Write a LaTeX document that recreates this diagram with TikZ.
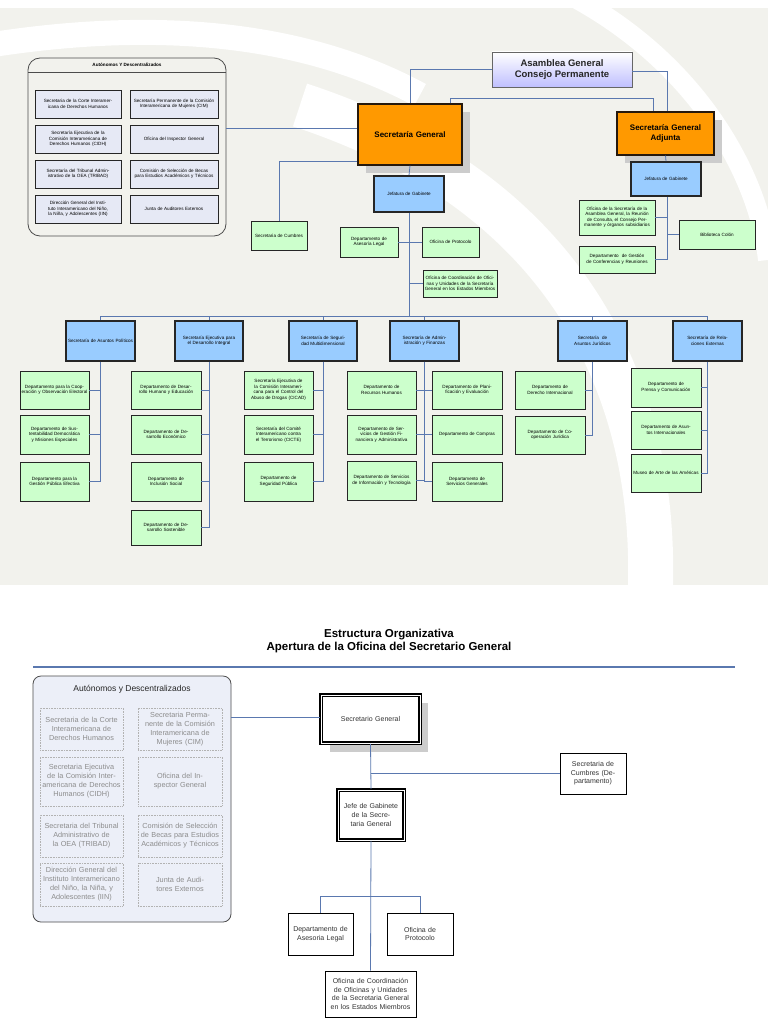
\documentclass[tikz,border=0pt]{standalone}
\usepackage{fontspec}
\setmainfont{Liberation Sans}
\usetikzlibrary{calc}
\definecolor{bgc}{RGB}{242,242,237}
\definecolor{lnc}{RGB}{90,120,175}
\definecolor{gfill}{RGB}{204,255,204}
\definecolor{bfill}{RGB}{153,204,255}
\definecolor{ofill}{RGB}{255,153,0}
\definecolor{lav}{RGB}{230,233,245}
\definecolor{pale}{RGB}{236,239,248}
\newcommand\bx[7]{\node[#6, minimum width={(#4-#2)*1pt}, minimum height={(#5-#3)*1pt}, text width={(#4-#2-3)*1pt}] (#1) at ({(#2+#4)/2},{(#3+#5)/2}) {#7};}
\tikzset{
 base/.style={inner sep=0pt, align=center, font=\fontsize{4.6}{5.5}\selectfont},
 green/.style={base, draw=black!85, line width=0.8pt, fill=gfill},
 blue/.style={base, draw=black!85, line width=1.6pt, fill=bfill},
 orange/.style={base, draw=black!80!brown, line width=1.4pt, fill=ofill, font=\bfseries\fontsize{8}{9.5}\selectfont},
 lav/.style={base, draw=black!85, line width=0.8pt, fill=lav},
 wbox/.style={inner sep=0pt, align=center, draw=black, line width=0.8pt, fill=white, font=\fontsize{7}{8.6}\selectfont, text=black!80},
 dbox/.style={wbox, line width=1.8pt, double=white, double distance=0.6pt},
 dot/.style={inner sep=0pt, align=center, draw=black!30, densely dotted, line width=0.6pt, font=\fontsize{7.3}{9}\selectfont, text=black!45},
 conn/.style={draw=lnc, line width=0.8pt},
}
\begin{document}
\begin{tikzpicture}[x=1pt,y=-1pt]
\useasboundingbox (0,0) rectangle (768,1024);
\fill[white] (0,0) rectangle (768,1024);
\fill[bgc] (0,0) rectangle (768,585);
\draw[white, line width=45pt] (300,105) .. controls (560,190) and (660,380) .. (650,600);
\draw[white, line width=20pt] (560,-10) .. controls (700,60) and (760,180) .. (768,260);
\fill[white] (0,0) rectangle (768,8);
\draw[white, line width=25pt] (-10,45) .. controls (150,20) and (300,30) .. (420,95);
% ---------- top half ----------
\node[base, draw=black!70, line width=0.8pt, rounded corners=12pt, fill=bgc, minimum width=198pt, minimum height=178pt] (aut) at (127,147) {};
\draw[black!70, line width=0.6pt] (28,72) -- (226,72);
\node[base, font=\bfseries\fontsize{4.6}{5.5}\selectfont] (autt) at (127,65) {Autónomos Y Descentralizados};
\bx{a1}{35}{90}{121}{118}{lav}{Secretaria de la Corte Interamericana de Derechos Humanos}
\bx{a2}{130}{90}{218}{118}{lav}{Secretaría Permanente de la Comisión Interamericana de Mujeres (CIM)}
\bx{a3}{35}{125}{121}{153}{lav}{Secretaría Ejecutiva de la Comisión Interamericana de Derechos Humanos (CIDH)}
\bx{a4}{130}{125}{218}{153}{lav}{Oficina del Inspector General}
\bx{a5}{35}{160}{121}{188}{lav}{Secretaría del Tribunal Administrativo de la OEA (TRIBAD)}
\bx{a6}{130}{160}{218}{188}{lav}{Comisión de Selección de Becas para Estudios Académicos y Técnicos}
\bx{a7}{35}{195}{121}{223}{lav}{Dirección General del Instituto Interamericano del Niño, la Niña, y Adolescentes (IIN)}
\bx{a8}{130}{195}{218}{223}{lav}{Junta de Auditores Externos}
% Asamblea
\node[inner sep=0pt, align=center, top color=white, bottom color=blue!25!white, draw=black!60, line width=0.8pt, minimum width=140pt, minimum height=35pt, font=\bfseries\fontsize{9.5}{11}\selectfont, text=black!85] (ag) at (562,69.5) {Asamblea General\\Consejo Permanente};
% SG and SGA with shadows
\fill[black!20] (366,112) rectangle (470,173);
\bx{sg}{358}{104}{462}{165}{orange}{Secretaría General\\[8pt]}
\fill[black!20] (625,120) rectangle (722,163);
\bx{sga}{617}{112}{714}{155}{orange}{Secretaría General\\Adjunta}
\bx{jg}{374}{176}{444}{212}{blue}{Jefatura de Gabinete}
\bx{jga}{631}{162}{701}{196}{blue}{Jefatura de Gabinete}
\bx{cumb}{251}{221}{307}{250}{green}{Secretaria de Cumbres}
\bx{leg}{340}{227}{398}{257}{green}{Departamento de Asesoría Legal}
\bx{prot}{422}{227}{479}{257}{green}{Oficina de Protocolo}
\bx{coord}{423}{270}{497}{297}{green}{Oficina de Coordinación de Oficinas y Unidades de la Secretaría General en los Estados Miembros}
\bx{osa}{579}{200}{655}{235}{green}{Oficina de la Secretaría de la Asamblea General, la Reunión de Consulta, el Consejo Permanente y órganos subsidiarios}
\bx{bib}{679}{220}{755}{249}{green}{Biblioteca Colón}
\bx{gest}{579}{246}{655}{273}{green}{Departamento \ de Gestión de Conferencias y Reuniones}
% second level
\bx{pol}{66}{321}{135}{361}{blue}{Secretaría de Asuntos Políticos}
\bx{edi}{175}{321}{243}{361}{blue}{Secretaría Ejecutiva para el Desarrollo Integral}
\bx{seg}{289}{321}{357}{361}{blue}{Secretaría de Seguridad Multidimensional}
\bx{adm}{390}{321}{459}{361}{blue}{Secretaría de Administración y Finanzas}
\bx{jur}{558}{321}{627}{361}{blue}{Secretaría \ de Asuntos Jurídicos}
\bx{rel}{673}{321}{742}{361}{blue}{Secretaría de Relaciones Externas}
\coordinate (bus) at (409,316);
% third level
\bx{p1}{20}{371}{89}{409}{green}{Departamento para la Cooperación y Observación Electoral}
\bx{p2}{20}{415}{89}{454}{green}{Departamento de Sustentabilidad Democrática y Misiones Especiales}
\bx{p3}{20}{462}{89}{501}{green}{Departamento para la Gestión Pública Efectiva}
\bx{e1}{131}{371}{201}{409}{green}{Departamento de Desarrollo Humano y Educación}
\bx{e2}{131}{415}{201}{454}{green}{Departamento de Desarrollo Económico}
\bx{e3}{131}{462}{201}{501}{green}{Departamento de Inclusión Social}
\bx{e4}{131}{510}{201}{545}{green}{Departamento de Desarrollo Sostenible}
\bx{s1}{244}{371}{313}{409}{green}{Secretaría Ejecutiva de la Comisión Interamericana para el Control del Abuso de Drogas (CICAD)}
\bx{s2}{244}{415}{313}{454}{green}{Secretaría del Comité Interamericano contra el Terrorismo (CICTE)}
\bx{s3}{244}{462}{313}{501}{green}{Departamento de Seguridad Pública}
\bx{d1}{347}{371}{416}{409}{green}{Departamento de Recursos Humanos}
\bx{d2}{347}{415}{416}{454}{green}{Departamento de Servicios de Gestión Financiera y Administrativa}
\bx{d3}{347}{461}{416}{500}{green}{Departamento de Servicios de Información y Tecnología}
\bx{f1}{432}{371}{502}{409}{green}{Departamento de Planificación y Evaluación}
\bx{f2}{432}{415}{502}{454}{green}{Departamento de Compras}
\bx{f3}{432}{462}{502}{501}{green}{Departamento de Servicios Generales}
\bx{j1}{515}{371}{585}{409}{green}{Departamento de Derecho Internacional}
\bx{j2}{515}{416}{585}{454}{green}{Departamento de Cooperación Jurídica}
\bx{r1}{631}{368}{701}{407}{green}{Departamento de Prensa y Comunicación}
\bx{r2}{631}{411}{701}{449}{green}{Departamento de Asuntos Internacionales}
\bx{r3}{631}{454}{701}{492}{green}{Museo de Arte de las Américas}
% connectors top
\begin{scope}[conn]
\draw (ag.west) -| (sg.north);
\draw ([yshift=-2pt]ag.east) -| ([xshift=1.5pt]sga.north);
\draw ([xshift=40pt]sg.north) -- ++(0,-5) -| ([xshift=-12pt]sga.north);
\draw ([yshift=6pt]sg.west) -- ([yshift=6pt]sg.west -| aut.east);
\draw ([yshift=4pt]sg.south west) -| (cumb.north);
\draw (sg.south) -- (jg.north);
\draw (jg.south) -- (bus);
\draw (leg.east) -- (prot.west);
\draw (jg.south) |- (coord.west);
\draw (sga.south) -- (jga.north);
\draw ([xshift=1.5pt]jga.south) |- (gest.east);
\draw (osa.east) -- ([xshift=1.5pt]osa.east -| jga.south);
\draw ([xshift=1.5pt]jga.south) |- (bib.west);
\foreach \n in {pol,edi,seg,adm,jur,rel} \draw (\n.north) |- (bus);
\foreach \c in {p1,p2,p3} \draw (pol.south) |- (\c.east);
\foreach \c in {e1,e2,e3,e4} \draw (edi.south) |- (\c.east);
\foreach \c in {s1,s2,s3} \draw (seg.south) |- (\c.east);
\foreach \c in {d1,d2,d3} \draw (adm.south) |- (\c.east);
\foreach \c in {f1,f2,f3} \draw (adm.south) |- (\c.west);
\foreach \c in {j1,j2} \draw (jur.south) |- (\c.east);
\foreach \c in {r1,r2,r3} \draw (rel.south) |- (\c.east);
\end{scope}
% ---------- bottom half ----------
\node[font=\bfseries\fontsize{11.5}{13.5}\selectfont, align=center, inner sep=0pt] (title) at (389,641) {Estructura Organizativa\\Apertura de la Oficina del Secretario General};
\draw[lnc, line width=1.4pt] (33,667) -- (735,667);
\node[inner sep=0pt, draw=black!70, line width=0.8pt, rounded corners=8pt, fill=pale, minimum width=198pt, minimum height=246pt] (autb) at (132,799) {};
\node[inner sep=0pt, font=\fontsize{8.5}{10}\selectfont, text=black!85] (autbt) at (132,689) {Autónomos y Descentralizados};
\bx{b1}{40}{708}{123}{750}{dot}{Secretaria de la Corte Interamericana de Derechos Humanos}
\bx{b2}{138}{708}{222}{750}{dot}{Secretaria Permanente de la Comisión Interamericana de Mujeres (CIM)}
\bx{b3}{40}{757}{123}{806}{dot}{Secretaria Ejecutiva de la Comisión Interamericana de Derechos Humanos (CIDH)}
\bx{b4}{138}{757}{222}{806}{dot}{Oficina del Inspector General}
\bx{b5}{40}{815}{123}{857}{dot}{Secretaria del Tribunal Administrativo de la OEA (TRIBAD)}
\bx{b6}{138}{815}{222}{857}{dot}{Comisión de Selección de Becas para Estudios Académicos y Técnicos}
\bx{b7}{40}{863}{123}{906}{dot}{Dirección General del Instituto Interamericano del Niño, la Niña, y Adolescentes (IIN)}
\bx{b8}{138}{863}{222}{906}{dot}{Junta de Auditores Externos}
\fill[black!20] (330,743) rectangle (428,752);
\fill[black!20] (420,703) rectangle (428,752);
\bx{sgb}{321}{695}{420}{743}{dbox}{Secretario General\\[14pt]}
\bx{cumbb}{560}{753}{626}{794}{wbox}{Secretaria de Cumbres (Departamento)}
\bx{jgb}{338}{790}{404}{840}{dbox}{Jefe de Gabinete de la Secretaria General}
\bx{legb}{288}{913}{353}{955}{wbox}{Departamento de Asesoria Legal}
\bx{protb}{387}{913}{453}{955}{wbox}{Oficina de Protocolo}
\bx{coordb}{325}{971}{416}{1017}{wbox}{Oficina de Coordinación de Oficinas y Unidades de la Secretaria General en los Estados Miembros}
\begin{scope}[conn]
\draw ([yshift=2pt]sgb.west) -- ([yshift=2pt]sgb.west -| autb.east);
\draw (sgb.south) -- (jgb.north);
\draw (cumbb.west) -- (cumbb.west -| sgb.south);
\draw (jgb.south) -- (coordb.north);
\draw (legb.north) -- ++(0,-16) -| (protb.north);
\end{scope}
\end{tikzpicture}
\end{document}
